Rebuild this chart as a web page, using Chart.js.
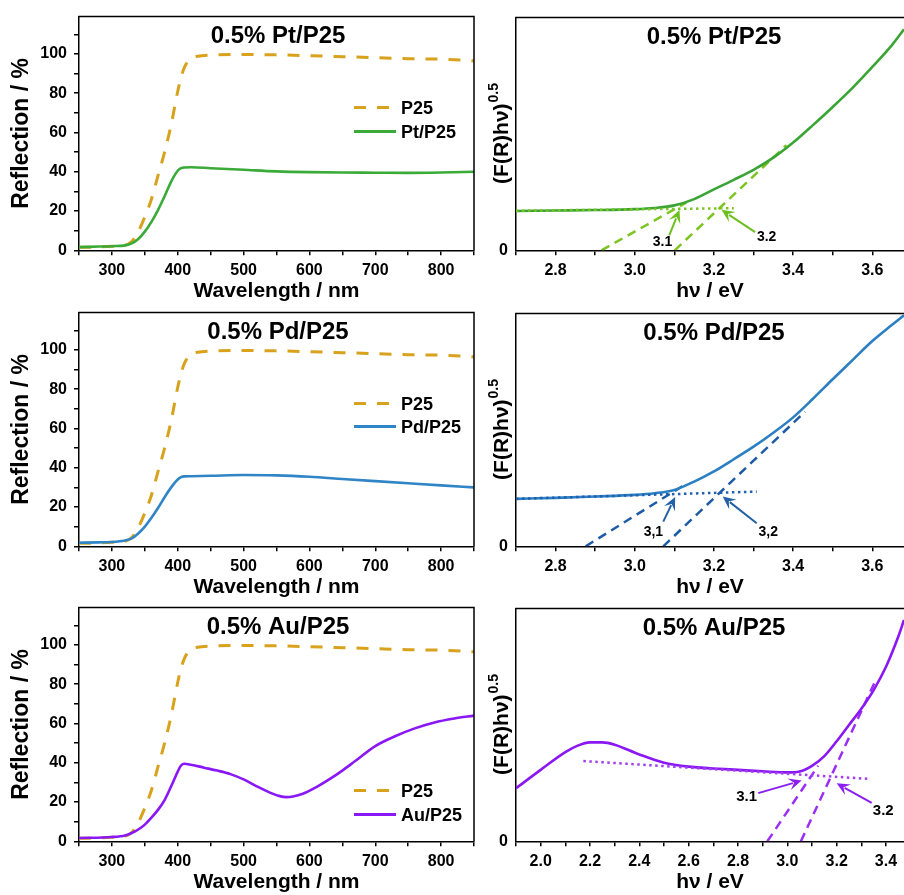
<!DOCTYPE html>
<html><head><meta charset="utf-8">
<script src="https://cdn.jsdelivr.net/npm/chart.js@4.4.0/dist/chart.umd.min.js"></script>
<style>
html,body{margin:0;padding:0;background:#fff;overflow:hidden;width:904px;height:895px}
canvas{position:absolute}
</style></head><body>
<canvas id="cL1" width="480" height="304" style="left:0;top:0"></canvas>
<canvas id="cR1" width="424" height="304" style="left:480px;top:0"></canvas>
<canvas id="cL2" width="480" height="304" style="left:0;top:296px"></canvas>
<canvas id="cR2" width="424" height="304" style="left:480px;top:296px"></canvas>
<canvas id="cL3" width="480" height="304" style="left:0;top:591px"></canvas>
<canvas id="cR3" width="424" height="304" style="left:480px;top:591px"></canvas>
<script>
// ---------- DATA ----------
// Reflection spectra (wavelength nm -> reflection %)
const wlP25 = [250, 280, 300, 320, 330, 340, 350, 360, 370, 380, 390, 400, 405, 410, 415, 420, 430, 450, 500, 550, 600, 650, 700, 750, 800, 850];
const rP25  = [1.5, 1.7, 2.0, 2.6, 4.5, 9.5, 17, 26, 38, 50, 64, 81, 88, 93, 96, 97.8, 98.8, 99.4, 99.7, 99.5, 99.1, 98.6, 98.1, 97.6, 97.3, 96.5];

const wlPt = [250, 280, 300, 320, 330, 340, 350, 360, 370, 380, 390, 400, 405, 410, 420, 450, 500, 550, 600, 650, 700, 750, 800, 850];
const rPt  = [1.6, 1.9, 2.1, 2.5, 3.5, 5.8, 9.5, 14.5, 20.5, 27.5, 35, 40.5, 41.8, 42.2, 42.3, 41.8, 41, 40.2, 39.8, 39.6, 39.5, 39.4, 39.6, 40];

const wlPd = [250, 280, 300, 320, 330, 340, 350, 360, 370, 380, 390, 400, 405, 410, 420, 450, 500, 550, 600, 650, 700, 750, 800, 850];
const rPd  = [1.8, 2.0, 2.2, 3.0, 4.0, 6.5, 10, 14.5, 19.5, 25, 30, 34, 35.2, 35.6, 35.7, 35.9, 36.3, 36.1, 35.4, 34.3, 33.2, 32.1, 31, 30];

const wlAu = [250, 300, 320, 330, 340, 350, 360, 370, 380, 390, 400, 405, 410, 420, 440, 460, 480, 500, 520, 540, 555, 565, 575, 590, 610, 630, 650, 670, 700, 730, 760, 790, 820, 850];
const rAu  = [1.7, 2.2, 3.0, 4.2, 6.0, 8.5, 12, 16, 21, 28, 35.5, 38.6, 39.5, 39, 37.5, 36, 34.2, 31.5, 28, 24.8, 23, 22.5, 22.8, 24.2, 27.5, 31.5, 36, 41, 48.5, 53.5, 57.5, 60.5, 62.5, 64];

// Tauc plots (photon energy eV -> (F(R)hv)^0.5, arbitrary units)
const evPt = [2.70, 2.80, 2.90, 3.00, 3.05, 3.10, 3.15, 3.20, 3.25, 3.30, 3.35, 3.40, 3.45, 3.50, 3.55, 3.60, 3.65, 3.68];
const kmPt = [0.169, 0.171, 0.173, 0.177, 0.182, 0.193, 0.220, 0.262, 0.303, 0.346, 0.398, 0.463, 0.538, 0.616, 0.698, 0.788, 0.883, 0.950];
const tanPt1X = [2.916, 3.13],  tanPt1Y = [0, 0.205];
const tanPt2X = [3.101, 3.383], tanPt2Y = [0, 0.452];
const basePtX = [2.70, 3.25],   basePtY = [0.170, 0.181];

const evPd = [2.70, 2.80, 2.90, 3.00, 3.05, 3.10, 3.15, 3.20, 3.25, 3.30, 3.35, 3.40, 3.45, 3.50, 3.55, 3.60, 3.65, 3.68];
const kmPd = [0.204, 0.208, 0.214, 0.221, 0.228, 0.242, 0.278, 0.322, 0.374, 0.428, 0.488, 0.554, 0.634, 0.718, 0.800, 0.882, 0.952, 0.993];
const tanPd1X = [2.876, 3.12],  tanPd1Y = [0, 0.258];
const tanPd2X = [3.072, 3.43],  tanPd2Y = [0, 0.578];
const basePdX = [2.70, 3.308],  basePdY = [0.204, 0.235];

const evAu = [1.90, 2.00, 2.10, 2.15, 2.20, 2.25, 2.30, 2.40, 2.50, 2.60, 2.70, 2.80, 2.90, 3.00, 3.05, 3.10, 3.15, 3.20, 3.25, 3.30, 3.35, 3.40, 3.45, 3.473];
const kmAu = [0.228, 0.307, 0.383, 0.411, 0.425, 0.425, 0.415, 0.373, 0.338, 0.321, 0.313, 0.307, 0.301, 0.296, 0.300, 0.324, 0.366, 0.430, 0.500, 0.570, 0.650, 0.750, 0.880, 0.951];
const tanAu1X = [2.919, 3.125], tanAu1Y = [0, 0.325];
const tanAu2X = [3.055, 3.355], tanAu2Y = [0, 0.685];
const baseAuX = [2.173, 3.335], baseAuY = [0.345, 0.268];

// band-gap annotation labels
const gapLabelsDot   = ['3.1', '3.2'];
const gapLabelsComma = ['3,1', '3,2'];

// ---------- RENDERING ----------
const FONT = "'Liberation Sans', Arial, Helvetica, sans-serif";
Chart.defaults.font.family = FONT;
Chart.defaults.color = '#000';

const GOLD = '#d8a21c';
const pts = (xs, ys) => xs.map((x, i) => ({x, y: ys[i]}));
const fixW = w => s => { s.width = w; };
const fixH = h => s => { s.height = h; };

function drawArrow(ctx, x1, y1, x2, y2, color) {
  const a = Math.atan2(y2 - y1, x2 - x1), c = Math.cos(a), s = Math.sin(a);
  const hl = 13, hw = 6;
  ctx.strokeStyle = color; ctx.fillStyle = color; ctx.lineWidth = 2; ctx.setLineDash([]);
  ctx.beginPath(); ctx.moveTo(x1, y1); ctx.lineTo(x2 - c * hl * 0.7, y2 - s * hl * 0.7); ctx.stroke();
  ctx.beginPath();
  ctx.moveTo(x2, y2);
  ctx.lineTo(x2 - hl * c + hw * s, y2 - hl * s - hw * c);
  ctx.lineTo(x2 - 0.6 * hl * c, y2 - 0.6 * hl * s);
  ctx.lineTo(x2 - hl * c - hw * s, y2 - hl * s + hw * c);
  ctx.closePath(); ctx.fill();
}

const decor = {
  id: 'decor',
  afterDraw(chart, args, o) {
    const {ctx, chartArea: a} = chart;
    const sx = chart.scales.x, sy = chart.scales.y;
    ctx.save();
    // frame (top, and right where visible)
    ctx.strokeStyle = '#000'; ctx.lineWidth = 1.5; ctx.setLineDash([]);
    ctx.beginPath();
    ctx.moveTo(a.left - 0.75, a.top); ctx.lineTo(a.right + (o.rightBorder ? 0.75 : 0), a.top);
    if (o.rightBorder) { ctx.moveTo(a.right, a.top); ctx.lineTo(a.right, a.bottom); }
    ctx.stroke();
    // panel title
    ctx.fillStyle = '#000';
    ctx.font = 'bold 24px ' + FONT;
    ctx.textAlign = 'center'; ctx.textBaseline = 'alphabetic';
    ctx.fillText(o.title, o.titleX, a.top + 26);
    // legend
    if (o.legend) {
      const L = o.legend;
      L.items.forEach((idx, k) => {
        const ds = chart.data.datasets[idx];
        const yy = a.top + L.rows[k];
        ctx.strokeStyle = ds.borderColor; ctx.lineWidth = 3; ctx.setLineDash(ds.borderDash || []);
        ctx.beginPath(); ctx.moveTo(L.x0, yy); ctx.lineTo(L.x1, yy); ctx.stroke();
        ctx.setLineDash([]);
        ctx.fillStyle = '#000';
        ctx.font = 'bold 18px ' + FONT; ctx.textAlign = 'left'; ctx.textBaseline = 'middle';
        ctx.fillText(ds.label, L.tx, yy + 1);
      });
    }
    // y title with superscript
    if (o.yTitle) {
      const cy = (a.top + a.bottom) / 2;
      ctx.save();
      ctx.translate(o.yTitle.x, cy);
      ctx.rotate(-Math.PI / 2);
      ctx.fillStyle = '#000'; ctx.textBaseline = 'alphabetic'; ctx.textAlign = 'left';
      ctx.font = 'bold 21px ' + FONT;
      const w1 = ctx.measureText(o.yTitle.main).width;
      ctx.font = 'bold 14px ' + FONT;
      const w2 = ctx.measureText(o.yTitle.sup).width;
      const x0 = -(w1 + w2) / 2;
      ctx.font = 'bold 21px ' + FONT;
      ctx.fillText(o.yTitle.main, x0, 0);
      ctx.font = 'bold 14px ' + FONT;
      ctx.fillText(o.yTitle.sup, x0 + w1 + 1, -10);
      ctx.restore();
    }
    // arrows & labels (data coordinates)
    if (o.notes) {
      o.notes.arrows.forEach(ar => {
        drawArrow(ctx, sx.getPixelForValue(ar.from[0]), sy.getPixelForValue(ar.from[1]),
                       sx.getPixelForValue(ar.to[0]), sy.getPixelForValue(ar.to[1]), o.notes.color);
      });
      ctx.fillStyle = '#000';
      ctx.font = 'bold ' + o.notes.size + 'px ' + FONT;
      ctx.textAlign = 'center'; ctx.textBaseline = 'middle';
      o.notes.labels.forEach(lb => {
        ctx.fillText(lb.text, sx.getPixelForValue(lb.at[0]), sy.getPixelForValue(lb.at[1]));
      });
    }
    ctx.restore();
  }
};

const axisCommon = {
  border: {display: true, color: '#000', width: 1.5},
  grid: {drawOnChartArea: false, drawTicks: true, tickLength: 5, color: '#000', lineWidth: 1.5}
};

function leftChart(id, title, label, color, wl, r, rows) {
  return new Chart(document.getElementById(id), {
    type: 'line',
    data: {datasets: [
      {label, data: pts(wl, r), borderColor: color, borderWidth: 2.6, pointRadius: 0, cubicInterpolationMode: 'monotone', fill: false},
      {label: 'P25', data: pts(wlP25, rP25), borderColor: GOLD, borderWidth: 3, borderDash: [12, 11], pointRadius: 0, cubicInterpolationMode: 'monotone', fill: false}
    ]},
    options: {
      responsive: false, animation: false, devicePixelRatio: 1,
      layout: {padding: {top: 14, right: 5.7, left: 0, bottom: 0}},
      plugins: {
        legend: {display: false}, tooltip: {enabled: false},
        decor: {title, titleX: 278, rightBorder: true,
                legend: {items: [1, 0], rows, x0: 354, x1: 396, tx: 401}}
      },
      scales: {
        x: Object.assign({}, axisCommon, {
          type: 'linear', min: 250, max: 850, afterFit: fixH(53.7),
          ticks: {stepSize: 50, autoSkip: false, maxRotation: 0, includeBounds: false, padding: 6,
                  font: {size: 16, weight: 'bold'}, color: '#000',
                  callback: v => (v % 100 === 0 ? String(v) : '')},
          title: {display: true, text: 'Wavelength / nm', font: {size: 21, weight: 'bold'}, color: '#000', padding: 0}
        }),
        y: Object.assign({}, axisCommon, {
          type: 'linear', min: 0, max: 119, afterFit: fixW(79),
          ticks: {stepSize: 10, autoSkip: false, includeBounds: false, padding: 7,
                  font: {size: 16, weight: 'bold'}, color: '#000',
                  callback: v => (v % 20 === 0 ? String(v) : '')},
          title: {display: true, text: 'Reflection / %', font: {size: 23, weight: 'bold'}, color: '#000', padding: {top: 8, bottom: 0}}
        })
      }
    },
    plugins: [decor]
  });
}

function rightChart(id, title, c, xmin, xmax, ev, km, t1x, t1y, t2x, t2y, bx, by, notes) {
  return new Chart(document.getElementById(id), {
    type: 'line',
    data: {datasets: [
      {label: 'baseline', data: pts(bx, by), borderColor: c.dot, borderWidth: 2.5, borderDash: [2.5, 3.5], pointRadius: 0, fill: false, tension: 0},
      {label: 'curve', data: pts(ev, km), borderColor: c.curve, borderWidth: 2.6, pointRadius: 0, cubicInterpolationMode: 'monotone', fill: false},
      {label: 'fit1', data: pts(t1x, t1y), borderColor: c.dash, borderWidth: 2.5, borderDash: [9, 6], pointRadius: 0, fill: false, tension: 0},
      {label: 'fit2', data: pts(t2x, t2y), borderColor: c.dash, borderWidth: 2.5, borderDash: [9, 6], pointRadius: 0, fill: false, tension: 0}
    ]},
    options: {
      responsive: false, animation: false, devicePixelRatio: 1,
      layout: {padding: {top: 14, right: 0, left: 0, bottom: 0}},
      plugins: {
        legend: {display: false}, tooltip: {enabled: false},
        decor: {title, titleX: 234, rightBorder: false,
                yTitle: {x: 28, main: '(F(R)h\u03BD)', sup: '0.5'}, notes}
      },
      scales: {
        x: Object.assign({}, axisCommon, {
          type: 'linear', min: xmin, max: xmax, afterFit: fixH(53.7),
          ticks: {stepSize: 0.1, autoSkip: false, maxRotation: 0, includeBounds: false, padding: 6,
                  font: {size: 16, weight: 'bold'}, color: '#000',
                  callback: v => (Math.round(v * 10) % 2 === 0 ? v.toFixed(1) : '')},
          title: {display: true, text: 'h\u03BD / eV', font: {size: 21, weight: 'bold'}, color: '#000', padding: 0}
        }),
        y: {
          type: 'linear', min: 0, max: 1, afterFit: fixW(36),
          border: {display: true, color: '#000', width: 1.5},
          grid: {display: false, drawTicks: false},
          ticks: {stepSize: 1, includeBounds: false, padding: 8, font: {size: 16, weight: 'bold'}, color: '#000',
                  callback: v => (v === 0 ? '0' : '')},
          title: {display: false}
        }
      }
    },
    plugins: [decor]
  });
}

leftChart('cL1', '0.5% Pt/P25', 'Pt/P25', '#3aaa38', wlPt, rPt, [91, 115]);
leftChart('cL2', '0.5% Pd/P25', 'Pd/P25', '#2f85c6', wlPd, rPd, [91, 114]);
leftChart('cL3', '0.5% Au/P25', 'Au/P25', '#8a17f5', wlAu, rAu, [183, 207]);

rightChart('cR1', '0.5% Pt/P25', {curve: '#3aa535', dash: '#7cc521', dot: '#7cc521'}, 2.7, 3.68,
  evPt, kmPt, tanPt1X, tanPt1Y, tanPt2X, tanPt2Y, basePtX, basePtY,
  {color: '#6cbf1f', size: 14,
   arrows: [{from: [3.087, 0.064], to: [3.113, 0.174]}, {from: [3.304, 0.078], to: [3.219, 0.174]}],
   labels: [{at: [3.070, 0.035], text: gapLabelsDot[0]}, {at: [3.333, 0.056], text: gapLabelsDot[1]}]});

rightChart('cR2', '0.5% Pd/P25', {curve: '#2b7fc2', dash: '#1d5ba6', dot: '#2060b0'}, 2.7, 3.68,
  evPd, kmPd, tanPd1X, tanPd1Y, tanPd2X, tanPd2Y, basePdX, basePdY,
  {color: '#2360a8', size: 14,
   arrows: [{from: [3.072, 0.106], to: [3.102, 0.212]}, {from: [3.308, 0.099], to: [3.222, 0.214]}],
   labels: [{at: [3.047, 0.059], text: gapLabelsComma[0]}, {at: [3.337, 0.059], text: gapLabelsComma[1]}]});

rightChart('cR3', '0.5% Au/P25', {curve: '#8b17f2', dash: '#9b2ff5', dot: '#a040f0'}, 1.9, 3.473,
  evAu, kmAu, tanAu1X, tanAu1Y, tanAu2X, tanAu2Y, baseAuX, baseAuY,
  {color: '#8b1ff0', size: 15,
   arrows: [{from: [2.882, 0.207], to: [3.058, 0.261]}, {from: [3.342, 0.165], to: [3.200, 0.249]}],
   labels: [{at: [2.835, 0.193], text: gapLabelsDot[0]}, {at: [3.389, 0.131], text: gapLabelsDot[1]}]});
</script>
</body></html>
